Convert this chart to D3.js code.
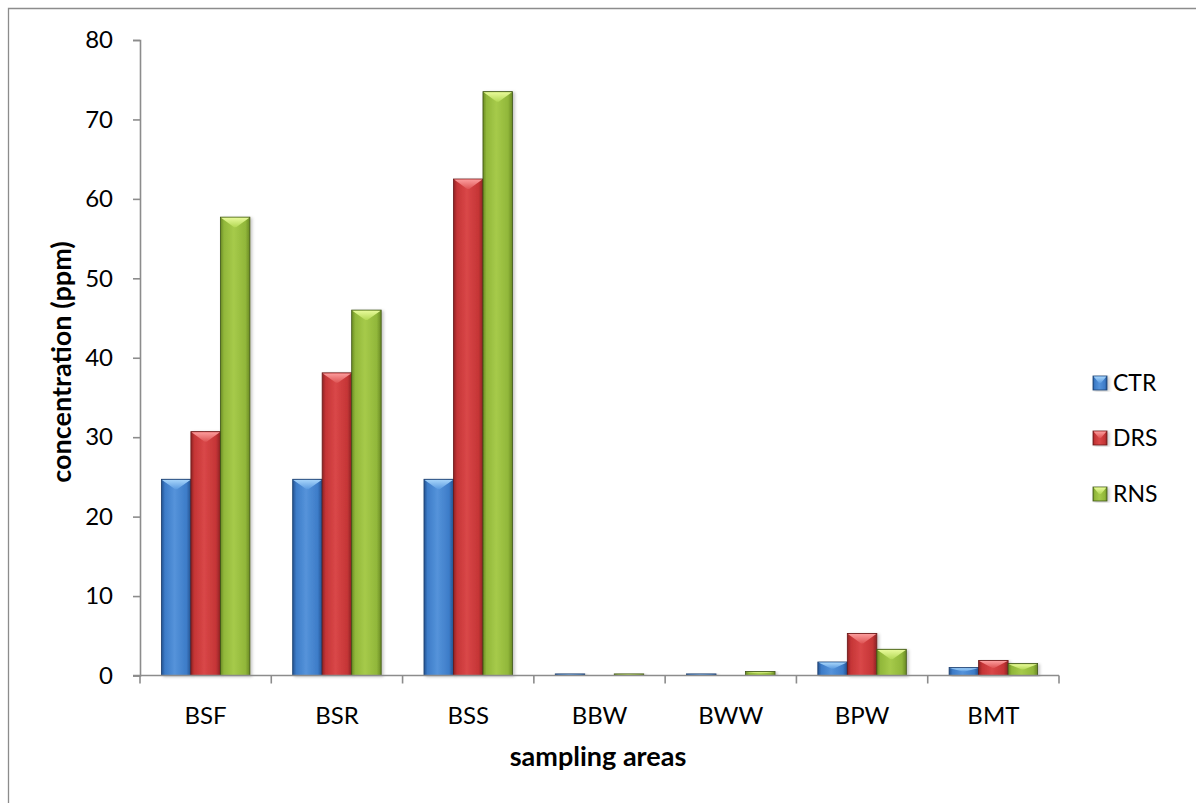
<!DOCTYPE html>
<html>
<head>
<meta charset="utf-8">
<script src="https://cdn.jsdelivr.net/npm/d3@7"></script>
<style>
  html, body { margin: 0; padding: 0; background: #fff; }
  svg { display: block; }
  text { font-family: Lato, "Open Sans", sans-serif; fill: #000; }
</style>
</head>
<body>
<svg id="chart" width="1196" height="803"></svg>
<script>
// Sampling areas and measured concentrations (ppm)
const categories = ["BSF", "BSR", "BSS", "BBW", "BWW", "BPW", "BMT"];
const seriesNames = ["CTR", "DRS", "RNS"];
const ctrValues = [24.7, 24.7, 24.7, 0.2, 0.2, 1.7, 1.0];
const drsValues = [30.7, 38.1, 62.5, 0.03, 0.03, 5.3, 1.9];
const rnsValues = [57.7, 46.0, 73.5, 0.2, 0.5, 3.3, 1.5];
const yTicks = [0, 10, 20, 30, 40, 50, 60, 70, 80];

const seriesValues = [ctrValues, drsValues, rnsValues];

// Per-series palette: edge, body, highlight, bevel cap
const palette = [
  { edge: "#24528f", body: "#3d7cc8", light: "#5593da", cap: "#a6d4fa", capEdge: "#5a9ae0", stroke: "#1d3f6e" },
  { edge: "#8e2324", body: "#c53536", light: "#d94748", cap: "#fb9c9c", capEdge: "#de5454", stroke: "#6a1818" },
  { edge: "#6a8a24", body: "#91b73a", light: "#a6ca4a", cap: "#e8fa9a", capEdge: "#b3d855", stroke: "#3f5514" }
];

const svg = d3.select("#chart");
const margin = { left: 140, top: 40 };
const plotW = 1059 - 140;
const plotH = 675.5 - 40;

// Outer chart frame
svg.append("path")
  .attr("d", "M8.5,803 L8.5,8.5 L1196,8.5")
  .attr("fill", "none").attr("stroke", "#8c8c8c").attr("stroke-width", 1.3);

const defs = svg.append("defs");
palette.forEach((p, i) => {
  const g = defs.append("linearGradient").attr("id", "body" + i)
    .attr("x1", "0").attr("x2", "1").attr("y1", "0").attr("y2", "0");
  g.append("stop").attr("offset", "0").attr("stop-color", p.edge);
  g.append("stop").attr("offset", "0.12").attr("stop-color", p.body);
  g.append("stop").attr("offset", "0.45").attr("stop-color", p.light);
  g.append("stop").attr("offset", "0.85").attr("stop-color", p.body);
  g.append("stop").attr("offset", "1").attr("stop-color", p.edge);
  const c = defs.append("linearGradient").attr("id", "cap" + i)
    .attr("x1", "0").attr("x2", "0").attr("y1", "0").attr("y2", "1");
  c.append("stop").attr("offset", "0").attr("stop-color", p.cap);
  c.append("stop").attr("offset", "1").attr("stop-color", p.capEdge);
});
const sh = defs.append("filter").attr("id", "shadow")
  .attr("x", "-20%").attr("y", "-5%").attr("width", "150%").attr("height", "115%");
sh.append("feDropShadow").attr("dx", 2).attr("dy", 1).attr("stdDeviation", 1.6)
  .attr("flood-color", "#000").attr("flood-opacity", 0.22);

const plot = svg.append("g").attr("transform", `translate(${margin.left},${margin.top})`);

const x0 = d3.scaleBand().domain(categories).range([0, plotW]).paddingInner(0.326).paddingOuter(0.163);
const x1 = d3.scaleBand().domain(seriesNames).range([0, x0.bandwidth()]);
const y = d3.scaleLinear().domain([0, 80]).range([plotH, 0]);

// Bars with a bevelled top
function drawBar(g, bx, by, bw, bh, si) {
  const p = palette[si];
  const bar = g.append("g").attr("filter", "url(#shadow)");
  bar.append("rect").attr("x", bx).attr("y", by).attr("width", bw).attr("height", bh)
    .attr("fill", `url(#body${si})`).attr("stroke", p.stroke).attr("stroke-width", 0.8);
  const capH = Math.min(10, bh * 0.5);
  if (bh > 1.5) {
    bar.append("path")
      .attr("d", `M${bx + 0.6},${by + 0.6} L${bx + bw - 0.6},${by + 0.6} L${bx + bw / 2 + 1},${by + capH} L${bx + bw / 2 - 1},${by + capH} Z`)
      .attr("fill", `url(#cap${si})`);
  }
}

const groups = plot.selectAll("g.cat").data(categories).join("g")
  .attr("class", "cat").attr("transform", d => `translate(${x0(d)},0)`);

groups.each(function (cat, ci) {
  const g = d3.select(this);
  seriesNames.forEach((s, si) => {
    const v = seriesValues[si][ci];
    const top = y(v);
    drawBar(g, x1(s), top, x1.bandwidth(), y(0) - top, si);
  });
});

// Y axis
const yAxis = plot.append("g").call(
  d3.axisLeft(y).tickValues(yTicks).tickSize(7).tickPadding(20).tickFormat(d3.format("d")));
yAxis.select(".domain").attr("stroke", "#8c8c8c").attr("stroke-width", 1.6);
yAxis.selectAll(".tick line").attr("stroke", "#8c8c8c").attr("stroke-width", 1.6);
yAxis.selectAll(".tick text").attr("font-size", 24).attr("fill", "#000")
  .attr("font-family", "Lato, 'Open Sans', sans-serif");

// X axis: ticks on category boundaries
const boundaries = d3.range(categories.length + 1).map(i => i * x0.step());
const xAxisG = plot.append("g").attr("transform", `translate(0,${plotH})`);
xAxisG.append("line").attr("x1", -7).attr("x2", plotW).attr("y1", 0).attr("y2", 0)
  .attr("stroke", "#8c8c8c").attr("stroke-width", 1.6);
xAxisG.selectAll("line.bt").data(boundaries).join("line").attr("class", "bt")
  .attr("x1", d => d).attr("x2", d => d).attr("y1", 0).attr("y2", 8)
  .attr("stroke", "#8c8c8c").attr("stroke-width", 1.6);
xAxisG.selectAll("text.cl").data(categories).join("text").attr("class", "cl")
  .attr("x", d => x0(d) + x0.bandwidth() / 2).attr("y", 48)
  .attr("text-anchor", "middle").attr("font-size", 24).text(d => d);

// Axis titles
svg.append("text").attr("transform", "translate(71,362) rotate(-90)")
  .attr("text-anchor", "middle").attr("font-size", 27).attr("font-weight", "bold")
  .text("concentration (ppm)");
svg.append("text").attr("x", 598).attr("y", 766)
  .attr("text-anchor", "middle").attr("font-size", 27).attr("font-weight", "bold")
  .text("sampling areas");

// Legend
const legend = svg.append("g").attr("transform", "translate(1093,0)");
const legendY = [383, 438, 494];
seriesNames.forEach((s, si) => {
  const ly = legendY[si];
  const sq = legend.append("g");
  drawBar(sq, 0, ly - 7, 14, 14, si);
  legend.append("text").attr("x", 20).attr("y", ly + 8).attr("font-size", 23).text(s);
});
</script>
</body>
</html>
